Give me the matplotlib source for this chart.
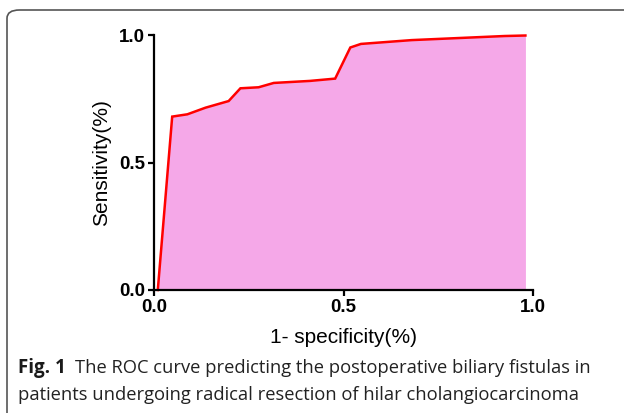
import matplotlib
matplotlib.use("Agg")
import matplotlib.pyplot as plt
from matplotlib.patches import FancyBboxPatch

# ROC points
fpr = [0.01, 0.048, 0.088, 0.136, 0.197, 0.228, 0.276, 0.316, 0.412, 0.478,
       0.518, 0.546, 0.68, 0.925, 0.98]
tpr = [0.0, 0.68, 0.689, 0.715, 0.741, 0.791, 0.795, 0.812, 0.82, 0.829,
       0.951, 0.965, 0.98, 0.996, 0.998]
ticks = [0.0, 0.5, 1.0]
tick_labels = ["0.0", "0.5", "1.0"]
xlabel = "1- specificity(%)"
ylabel = "Sensitivity(%)"
cap_bold = "Fig. 1"
cap_line1 = "The ROC curve predicting the postoperative biliary fistulas in"
cap_line2 = "patients undergoing radical resection of hilar cholangiocarcinoma"

PINK, RED = "#f5a8e8", "#ff0000"
W, H = 624, 413
fig = plt.figure(figsize=(W / 100, H / 100), dpi=100)

# rounded frame, clipped by the right and bottom image edges
frame = FancyBboxPatch((7 / W, -0.2), 1.2, (H - 10) / H + 0.2,
                       boxstyle="round,pad=0,rounding_size=0.02",
                       transform=fig.transFigure, fill=False,
                       edgecolor="#555555", lw=1.2)
fig.patches.append(frame)

ax = fig.add_axes([154 / W, (H - 290) / H, 379 / W, 255 / H])
ax.fill_between(fpr, 0, tpr, color=PINK, lw=0)
ax.plot(fpr, tpr, color=RED, lw=1.8, clip_on=False, solid_joinstyle="miter")
ax.set_xlim(0, 1)
ax.set_ylim(0, 1)
for s in ["top", "right"]:
    ax.spines[s].set_visible(False)
for s in ["left", "bottom"]:
    ax.spines[s].set_linewidth(1.6)
ax.set_xticks(ticks)
ax.set_yticks(ticks)
ax.set_xticklabels(tick_labels, fontweight="bold", family="Liberation Sans", fontsize=13.5)
ax.set_yticklabels(tick_labels, fontweight="bold", family="Liberation Sans", fontsize=13.5)
ax.tick_params(length=4.5, width=1.6, pad=2)
ax.set_xlabel(xlabel, family="Liberation Sans", fontsize=15)
ax.set_ylabel(ylabel, family="Liberation Sans", fontsize=15)
ax.xaxis.set_label_coords(0.5, -0.15)
ax.yaxis.set_label_coords(-0.113, 0.5)

# caption
cx, y1, y2 = 18 / W, 1 - 373 / H, 1 - 400 / H
t = fig.text(cx, y1, cap_bold, fontweight="bold", family="Open Sans", fontsize=13.5,
             va="baseline", color="#1a1a1a")
fig.canvas.draw()
bb = t.get_window_extent()
fig.text(bb.x1 / W + 9 / W, y1, cap_line1, family="Open Sans", fontsize=13.2, va="baseline",
         color="#222222")
fig.text(cx, y2, cap_line2, family="Open Sans", fontsize=13.2, va="baseline", color="#222222")

fig.savefig("out.png", dpi=100)
